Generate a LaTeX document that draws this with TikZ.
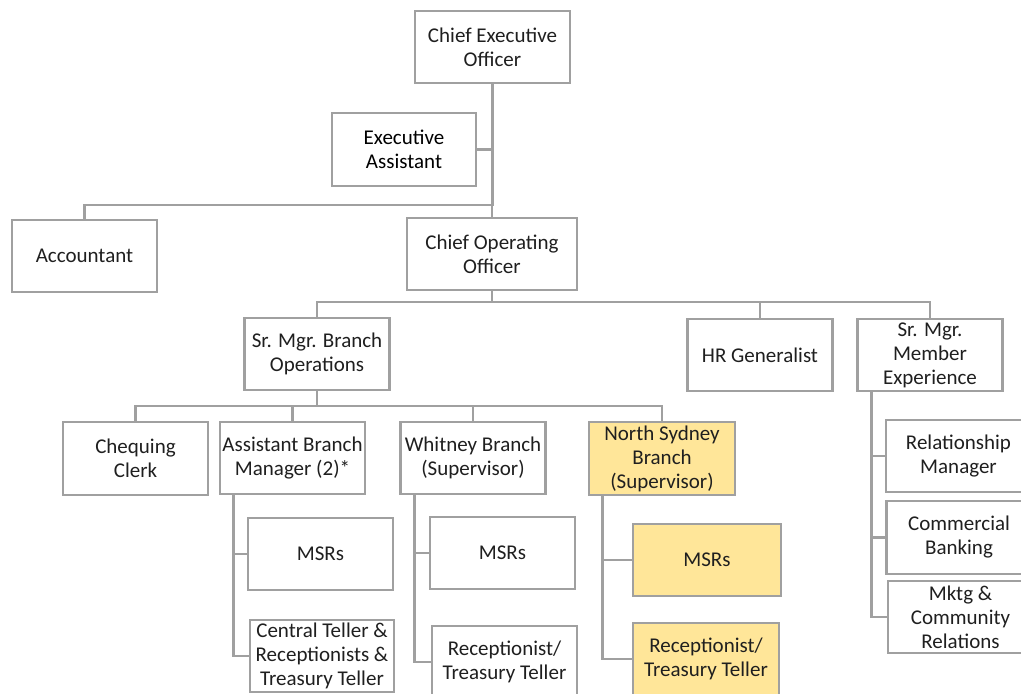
\documentclass[tikz,border=0pt]{standalone}
\usepackage{fontspec}
\setmainfont{Carlito}
\usetikzlibrary{backgrounds}
\definecolor{boxline}{HTML}{A0A0A0}
\definecolor{boxyellow}{HTML}{FFE699}
\definecolor{txt}{HTML}{1F1F1F}
\begin{document}
\begin{tikzpicture}[x=1pt,y=-1pt,
  orgbox/.style={draw=boxline, line width=2.8pt, fill=white, inner sep=0pt, align=center, text=txt, font=\fontsize{21}{24}\selectfont},
  hl/.style={fill=boxyellow},
  wh/.style 2 args={minimum width=#1pt, minimum height=#2pt},
  conn/.style={draw=boxline, line width=2.8pt, line cap=rect}]
\useasboundingbox (0,0) rectangle (1021,694);
\clip (0,0) rectangle (1021,694);

\node[orgbox, wh={155}{72}] (ceo) at (492.5,47) {Chief Executive\\Officer};
\node[orgbox, wh={144}{73}, text=black] (ea) at (404,149.5) {Executive\\Assistant};
\node[orgbox, wh={145}{72}] (acc) at (84.5,256) {Accountant};
\node[orgbox, wh={170}{72}] (coo) at (492,254) {Chief Operating\\Officer};
\node[orgbox, wh={145}{72}] (sbo) at (317,354) {Sr. Mgr. Branch\\Operations};
\node[orgbox, wh={145}{72}] (hr) at (760,355) {HR Generalist};
\node[orgbox, wh={145}{72}] (smx) at (930,355) {Sr. Mgr.\\Member\\Experience};
\node[orgbox, wh={145}{73}] (chq) at (135.5,458.5) {Chequing\\Clerk};
\node[orgbox, wh={145}{72}] (abm) at (292.5,458) {Assistant Branch\\Manager (2)*};
\node[orgbox, wh={145}{72}] (wb) at (473,458) {Whitney Branch\\(Supervisor)};
\node[orgbox, hl, wh={146}{73}] (ns) at (662,458.5) {North Sydney\\Branch\\(Supervisor)};
\node[orgbox, wh={145}{72}] (amsr) at (320.5,554) {MSRs};
\node[orgbox, wh={144}{72}] (ctr) at (322,656) {Central Teller \&\\Receptionists \&\\Treasury Teller};
\node[orgbox, wh={145}{72}] (wmsr) at (502.5,553) {MSRs};
\node[orgbox, wh={145}{72}] (wrec) at (504.5,662) {Receptionist/\\Treasury Teller};
\node[orgbox, hl, wh={148}{72}] (nmsr) at (707,560) {MSRs};
\node[orgbox, hl, wh={146}{72}] (nrec) at (706,659) {Receptionist/\\Treasury Teller};
\node[orgbox, wh={145}{72}] (rm) at (958.5,456) {Relationship\\Manager};
\node[orgbox, wh={145}{73}] (cb) at (959,537.5) {Commercial\\Banking};
\node[orgbox, wh={145}{72}] (mk) at (960.5,617) {Mktg \&\\Community\\Relations};

\coordinate (j1) at (492,205);
\coordinate (j2) at (492,302);
\coordinate (j3) at (317,406);
\coordinate (av) at ([xshift=15pt]abm.south west);
\coordinate (wv) at ([xshift=15pt]wb.south west);
\coordinate (nv) at ([xshift=15pt]ns.south west);
\coordinate (mv) at ([xshift=15pt]smx.south west);

\begin{scope}[on background layer]
\draw[conn] (ceo.south) -- (ceo.south |- j1);
\draw[conn] (ea.east) -- (ea.east -| ceo.south);
\draw[conn] (acc.north) |- (j1) -- (coo.north);
\draw[conn] (coo.south) -- (j2);
\draw[conn] (sbo.north) -- (sbo.north |- j2) -- (smx.north |- j2) -- (smx.north);
\draw[conn] (hr.north) -- (hr.north |- j2);
\draw[conn] (sbo.south) -- (j3);
\draw[conn] (chq.north) -- (chq.north |- j3) -- (ns.north |- j3) -- (ns.north);
\draw[conn] (abm.north) -- (abm.north |- j3);
\draw[conn] (wb.north) -- (wb.north |- j3);
\draw[conn] (av) |- (ctr.west);
\draw[conn] (amsr.west) -- (amsr.west -| av);
\draw[conn] (wv) |- (wrec.west);
\draw[conn] (wmsr.west) -- (wmsr.west -| wv);
\draw[conn] (nv) |- (nrec.west);
\draw[conn] (nmsr.west) -- (nmsr.west -| nv);
\draw[conn] (mv) |- (mk.west);
\draw[conn] (rm.west) -- (rm.west -| mv);
\draw[conn] (cb.west) -- (cb.west -| mv);
\end{scope}
\end{tikzpicture}
\end{document}
